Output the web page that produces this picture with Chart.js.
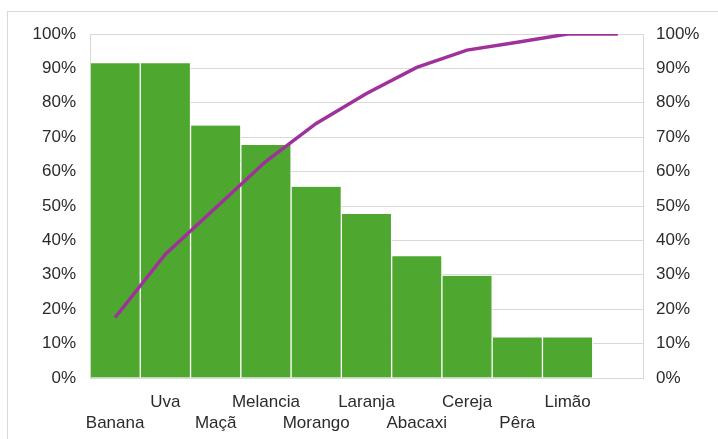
<!DOCTYPE html>
<html>
<head>
<meta charset="utf-8">
<script src="https://cdn.jsdelivr.net/npm/chart.js@4/dist/chart.umd.min.js"></script>
<style>
  html, body { margin: 0; padding: 0; background: #fff; overflow: hidden; }
  #frame { position: absolute; left: 7px; top: 11px; width: 900px; height: 600px; border: 1px solid #d9d9d9; box-sizing: border-box; }
  #wrap { position: absolute; left: 0; top: 0; width: 718px; height: 439px; }
</style>
</head>
<body>
<div id="frame"></div>
<div id="wrap"><canvas id="c" width="718" height="439"></canvas></div>
<script>
// Fruit categories (the last slot is left empty so the cumulative line can close at 100%)
const categories = ['Banana', 'Uva', 'Maçã', 'Melancia', 'Morango', 'Laranja', 'Abacaxi', 'Cereja', 'Pêra', 'Limão', ''];
// Bar heights, in percent of the left axis
const barValues = [91.5, 91.5, 73.4, 67.7, 55.6, 47.7, 35.4, 29.7, 11.8, 11.8, null];
// Cumulative share, in percent of the right axis
const cumulativeValues = [17.6, 36.0, 49.5, 63.0, 74.0, 82.7, 90.3, 95.3, 97.6, 100, 100];
// Axis tick values
const tickValues = [0, 10, 20, 30, 40, 50, 60, 70, 80, 90, 100];

// Alternate the labels between two rows so long names do not overlap
const staggeredLabels = categories.map((name, i) => (i % 2 === 0 ? ['', name] : [name, '']));

const fontFamily = 'Liberation Sans, Arial, Helvetica, sans-serif';
const textColor = '#2b2b2b';
const gridColor = '#d9d9d9';

new Chart(document.getElementById('c'), {
  data: {
    labels: staggeredLabels,
    datasets: [
      {
        type: 'line',
        data: cumulativeValues,
        yAxisID: 'y2',
        borderColor: '#a0309c',
        borderWidth: 3.4,
        pointRadius: 0,
        tension: 0,
        fill: false,
        order: 0
      },
      {
        type: 'bar',
        data: barValues,
        yAxisID: 'y',
        backgroundColor: '#4ea72e',
        borderColor: '#ffffff',
        borderWidth: { left: 1, right: 1, top: 0, bottom: 0 },
        barPercentage: 1,
        categoryPercentage: 1,
        order: 1
      }
    ]
  },
  options: {
    responsive: false,
    animation: false,
    layout: { padding: { top: 34, left: 0, right: 0, bottom: 0 } },
    plugins: { legend: { display: false }, tooltip: { enabled: false } },
    scales: {
      x: {
        grid: { display: false, drawTicks: false },
        border: { display: true, color: gridColor, width: 1 },
        ticks: {
          autoSkip: false, maxRotation: 0, minRotation: 0,
          color: textColor, font: { family: fontFamily, size: 17, lineHeight: 1.21 }, padding: 14
        },
        afterFit: s => { s.height = 439 - 378; }
      },
      y: {
        position: 'left',
        min: 0, max: 100,
        afterBuildTicks: s => { s.ticks = tickValues.map(v => ({ value: v })); },
        grid: { color: gridColor, lineWidth: 1, drawTicks: false },
        border: { display: true, color: gridColor, width: 1 },
        ticks: { color: textColor, font: { family: fontFamily, size: 17 }, padding: 14, callback: v => v + '%' },
        afterFit: s => { s.width = 90; }
      },
      y2: {
        position: 'right',
        min: 0, max: 100,
        afterBuildTicks: s => { s.ticks = tickValues.map(v => ({ value: v })); },
        grid: { display: false, drawTicks: false },
        border: { display: true, color: gridColor, width: 1 },
        ticks: { color: textColor, font: { family: fontFamily, size: 17 }, padding: 13, callback: v => v + '%' },
        afterFit: s => { s.width = 75; }
      }
    }
  }
});
</script>
</body>
</html>
